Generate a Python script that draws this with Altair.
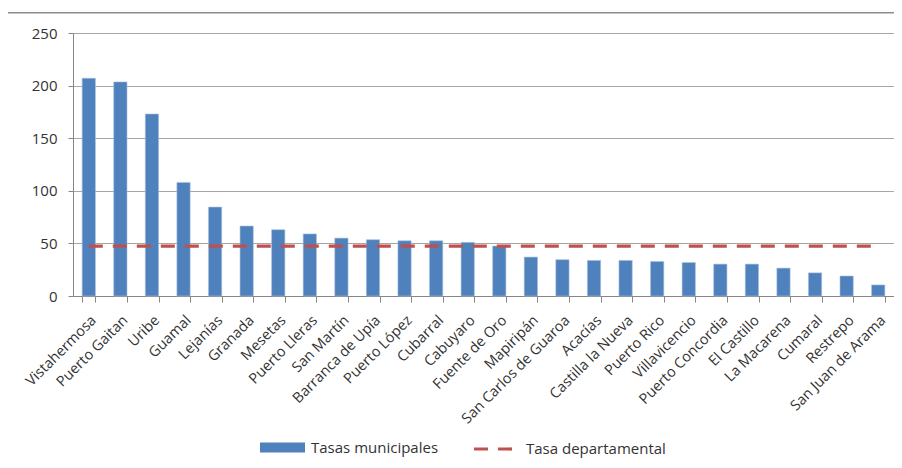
import altair as alt
import pandas as pd

municipios = ["Vistahermosa", "Puerto Gaitan", "Uribe", "Guamal", "Lejanías", "Granada",
              "Mesetas", "Puerto Lleras", "San Martín", "Barranca de Upía", "Puerto López",
              "Cubarral", "Cabuyaro", "Fuente de Oro", "Mapiripán", "San Carlos de Guaroa",
              "Acacías", "Castilla la Nueva", "Puerto Rico", "Villavicencio", "Puerto Concordia",
              "El Castillo", "La Macarena", "Cumaral", "Restrepo", "San Juan de Arama"]
tasas = [207, 203.5, 173, 108, 84.5, 66.5, 63, 59, 55, 53.5, 52.5, 52.5, 51, 47.5, 37,
         34.5, 33.8, 33.8, 32.8, 31.8, 30.3, 30.3, 26.5, 22, 19, 10.5]
tasa_departamental = 47.5

df = pd.DataFrame({"municipio": municipios, "tasa": tasas,
                   "dep": [tasa_departamental] * len(municipios)})

FONT = "Open Sans"
TXT = "#333333"

x = alt.X("municipio:N", sort=municipios, title=None,
          scale=alt.Scale(paddingInner=0.58, paddingOuter=0.29),
          axis=alt.Axis(labelAngle=-45, labelAlign="right", labelBaseline="top",
                        labelFontSize=14.5, labelFont=FONT, labelColor=TXT, labelPadding=11,
                        tickBand="extent", tickSize=6, tickColor="#868686",
                        domainColor="#868686", grid=False, labelOverlap=False))

bars = alt.Chart(df).mark_bar(color="#4F81BD", stroke="#A7C0DE", strokeWidth=0.6).encode(
    x=x,
    y=alt.Y("tasa:Q", title=None,
            scale=alt.Scale(domain=[0, 250], nice=False),
            axis=alt.Axis(values=[0, 50, 100, 150, 200, 250], labelFontSize=15,
                          labelFont=FONT, labelColor=TXT, tickSize=5, tickColor="#868686",
                          domainColor="#868686", gridColor="#A6A6A6", labelPadding=11)),
    color=alt.Color("s:N", scale=alt.Scale(domain=["Tasas municipales"], range=["#4F81BD"]),
                    legend=alt.Legend(orient="none", legendX=187, legendY=392, title=None,
                                      symbolType="M-1,-0.22H1V0.22H-1Z", symbolSize=2025,
                                      symbolStrokeWidth=0, labelFontSize=15, labelFont=FONT,
                                      labelColor=TXT, labelOffset=6)),
).transform_calculate(s="'Tasas municipales'")

line = alt.Chart(df).mark_line(color="#C0504D", strokeWidth=3.2, strokeDash=[13, 11]).encode(
    x=alt.X("municipio:N", sort=municipios),
    y=alt.Y("dep:Q"),
    strokeDash=alt.StrokeDash("d:N", scale=alt.Scale(domain=["Tasa departamental"], range=[[14, 10]]),
                              legend=alt.Legend(orient="none", legendX=399, legendY=395, title=None,
                                                symbolType="stroke", symbolSize=1444,
                                                symbolStrokeColor="#C0504D", symbolStrokeWidth=3.2,
                                                labelFontSize=15, labelFont=FONT,
                                                labelColor=TXT, labelOffset=12)),
).transform_calculate(d="'Tasa departamental'")

one = pd.DataFrame({"k": [0]})
frame_top = alt.Chart(one).mark_rect(color="#8C8C8C", strokeWidth=0).encode(
    x=alt.value(-65), x2=alt.value(821), y=alt.value(-21), y2=alt.value(-19.5))

chart = alt.layer(bars, line, frame_top).resolve_scale(
    color="independent", strokeDash="independent"
).properties(
    width=821, height=263,
    autosize=alt.AutoSizeParams(type="none"),
    padding={"left": 65, "top": 25, "right": 0, "bottom": 172},
).configure_view(strokeWidth=0, stroke="transparent").configure_axis(gridWidth=1)

chart.save("out.html", embed_options={"renderer": "svg", "actions": False})
